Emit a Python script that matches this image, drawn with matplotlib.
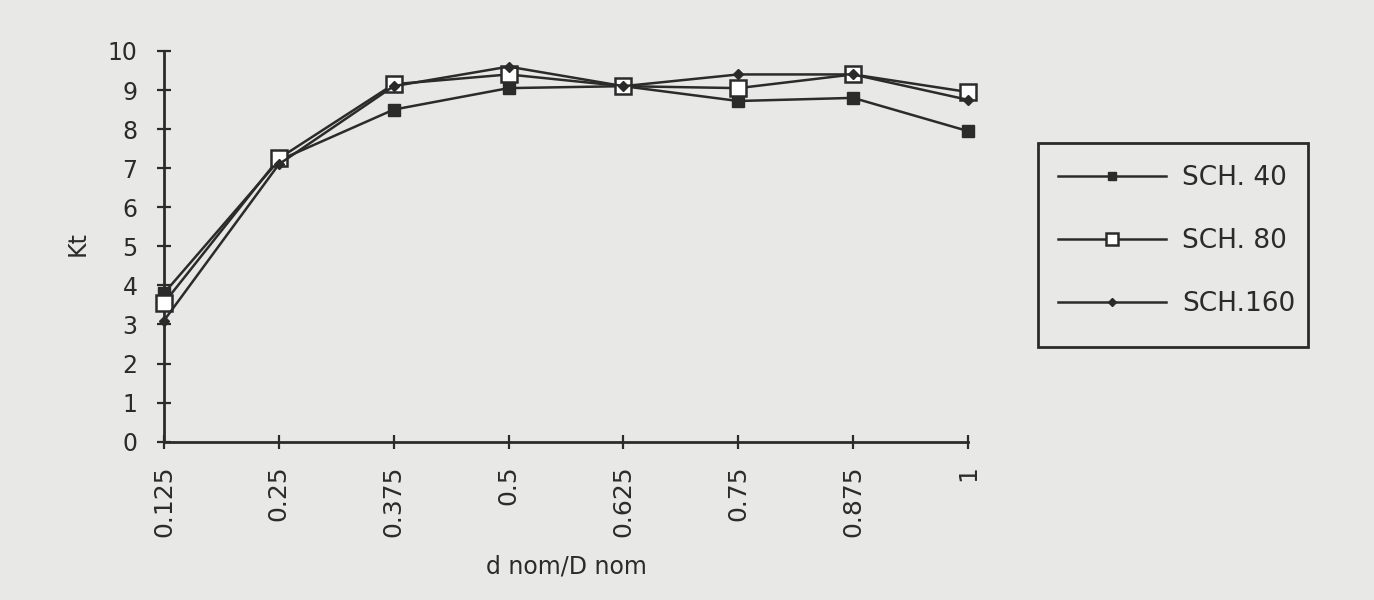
import matplotlib
matplotlib.use("Agg")
import matplotlib.pyplot as plt
from matplotlib.patches import Rectangle

x_labels = ["0.125", "0.25", "0.375", "0.5", "0.625", "0.75", "0.875", "1"]
x_values = [0.125, 0.25, 0.375, 0.5, 0.625, 0.75, 0.875, 1.0]
sch40 = [3.8, 7.2, 8.5, 9.05, 9.1, 8.72, 8.8, 7.95]
sch80 = [3.55, 7.25, 9.15, 9.4, 9.1, 9.05, 9.4, 8.95]
sch160 = [3.1, 7.1, 9.1, 9.6, 9.1, 9.4, 9.4, 8.75]
y_ticks = list(range(0, 11))

plt.rcParams['font.family'] = ['DejaVu Sans']
ink = '#2b2b2b'
bg = '#e8e8e6'
W, H = 1374, 600

fig = plt.figure(figsize=(13.74, 6.0), dpi=100, facecolor=bg)
ax = fig.add_axes([164/W, 1-441.7/H, (968-164)/W, (441.7-51)/H])
ax.set_facecolor(bg)

ax.plot(x_values, sch40, color=ink, lw=1.8, marker='s', ms=8, mfc=ink, mec=ink,
        label='SCH. 40', clip_on=False, zorder=3)
ax.plot(x_values, sch80, color=ink, lw=1.8, marker='s', ms=11, mfc='white', mec=ink, mew=1.8,
        label='SCH. 80', clip_on=False, zorder=4)
ax.plot(x_values, sch160, color=ink, lw=1.8, marker='D', ms=5, mfc=ink, mec=ink,
        label='SCH.160', clip_on=False, zorder=5)

ax.set_xlim(0.125, 1.0)
ax.set_ylim(0, 10)
ax.set_xticks(x_values)
ax.set_xticklabels(x_labels, rotation=90, fontsize=18, color=ink)
ax.set_yticks(y_ticks)
ax.set_yticklabels([str(v) for v in y_ticks], fontsize=17, color=ink)
ax.tick_params(axis='both', direction='inout', length=10, width=1.6, color=ink)
ax.tick_params(axis='x', pad=12)
ax.tick_params(axis='y', pad=14)
for s in ['top', 'right']:
    ax.spines[s].set_visible(False)
for s in ['left', 'bottom']:
    ax.spines[s].set_color(ink)
    ax.spines[s].set_linewidth(2)

fig.text(566/W, 1-566/H, 'd nom/D nom', ha='center', va='center', fontsize=17, color=ink)
fig.text(78/W, 1-243/H, 'Kt', ha='center', va='center', rotation=90, fontsize=17, color=ink)

leg = ax.legend(loc='upper left', bbox_to_anchor=(1058/W, 1-165/H), bbox_transform=fig.transFigure,
                fontsize=19, frameon=False,
                handlelength=4.1, handletextpad=0.6, labelspacing=1.4, borderpad=0,
                borderaxespad=0, markerscale=0.8)
for t in leg.get_texts():
    t.set_color(ink)

fig.patches.append(Rectangle((1038/W, 1-347/H), (1308-1038)/W, (347-143)/H,
                             transform=fig.transFigure, fill=False, edgecolor=ink, lw=2))

fig.savefig('out.png', dpi=100, facecolor=bg)
